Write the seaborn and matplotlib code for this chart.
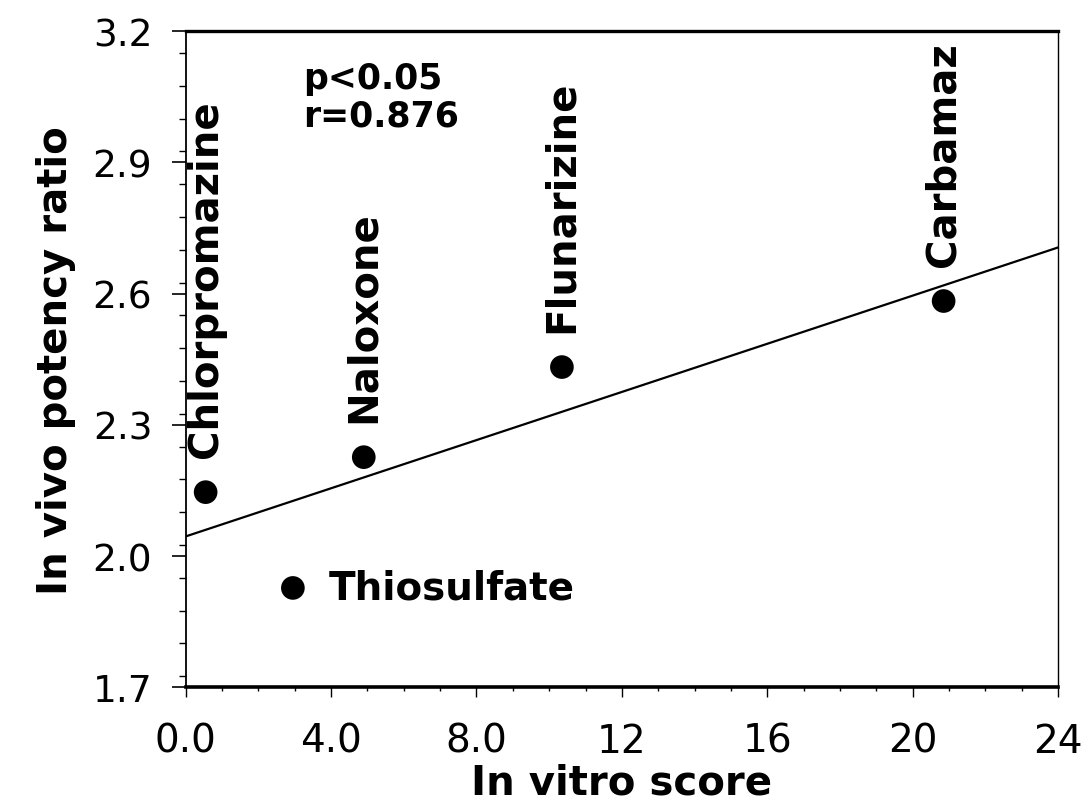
import numpy as np
import pandas as pd
import seaborn as sns
import matplotlib.pyplot as plt
from matplotlib.ticker import MultipleLocator, FixedLocator, FixedFormatter

# values
drugs = ['Chlorpromazine', 'Naloxone', 'Flunarizine', 'Thiosulfate', 'Carbamaz']
in_vitro = [0.55, 4.9, 10.35, 2.95, 20.85]
in_vivo = [2.146, 2.226, 2.432, 1.927, 2.583]
label_vertical = [True, True, True, False, True]

x_ticks = [0, 4, 8, 12, 16, 20, 24]
x_tick_labels = ['0.0', '4.0', '8.0', '12', '16', '20', '24']
y_ticks = [1.7, 2.0, 2.3, 2.6, 2.9, 3.2]

stats_text = 'p<0.05\nr=0.876'

df = pd.DataFrame({'drug': drugs, 'in_vitro': in_vitro, 'in_vivo': in_vivo})

sns.set_style('ticks')
plt.rcParams['font.family'] = ['DejaVu Sans']
for key in ['text.color', 'axes.labelcolor', 'xtick.color', 'ytick.color']:
    plt.rcParams[key] = 'black'

fig = plt.figure(figsize=(10.92, 8.04), dpi=100)
ax = fig.add_axes([0.170, 0.144, 0.799, 0.816])
ax.set_xlim(0, 24)
ax.set_ylim(1.7, 3.2)

sns.regplot(data=df, x='in_vitro', y='in_vivo', ax=ax, ci=None, truncate=False,
            scatter_kws={'s': 290, 'color': 'black', 'edgecolor': 'none', 'alpha': 1},
            line_kws={'color': 'black', 'linewidth': 1.6})

# drug names next to their points
for name, xv, yv, vert in zip(drugs, in_vitro, in_vivo, label_vertical):
    if vert:
        ax.annotate(name, (xv, yv), xytext=(0, 25), textcoords='offset points',
                    rotation=90, ha='center', va='bottom',
                    fontsize=29, fontweight='bold')
    else:
        ax.annotate(name, (xv, yv), xytext=(26, 0), textcoords='offset points',
                    ha='left', va='center', fontsize=28, fontweight='bold')

ax.text(0.135, 0.955, stats_text, transform=ax.transAxes, ha='left', va='top',
        fontsize=25, fontweight='bold', linespacing=1.15)

ax.xaxis.set_major_locator(FixedLocator(x_ticks))
ax.xaxis.set_major_formatter(FixedFormatter(x_tick_labels))
ax.xaxis.set_minor_locator(MultipleLocator(1))
ax.yaxis.set_major_locator(FixedLocator(y_ticks))
ax.yaxis.set_major_formatter(FixedFormatter(['%.1f' % v for v in y_ticks]))
ax.yaxis.set_minor_locator(MultipleLocator(0.075))

ax.tick_params(axis='x', which='major', direction='out', length=7, width=1.0,
               pad=18, labelsize=28)
ax.tick_params(axis='x', which='minor', direction='out', length=3, width=1.0)
ax.tick_params(axis='y', which='major', direction='out', length=10, width=1.2,
               pad=14, labelsize=27)
ax.tick_params(axis='y', which='minor', direction='out', length=5, width=1.0)

for side, lw in [('top', 2.4), ('bottom', 2.6), ('left', 1.3), ('right', 1.0)]:
    ax.spines[side].set_visible(True)
    ax.spines[side].set_linewidth(lw)
    ax.spines[side].set_color('black')

ax.set_xlabel('In vitro score', fontsize=29, fontweight='bold', labelpad=2)
ax.set_ylabel('In vivo potency ratio', fontsize=29, fontweight='bold', labelpad=12)

fig.savefig('out.png', dpi=100)
